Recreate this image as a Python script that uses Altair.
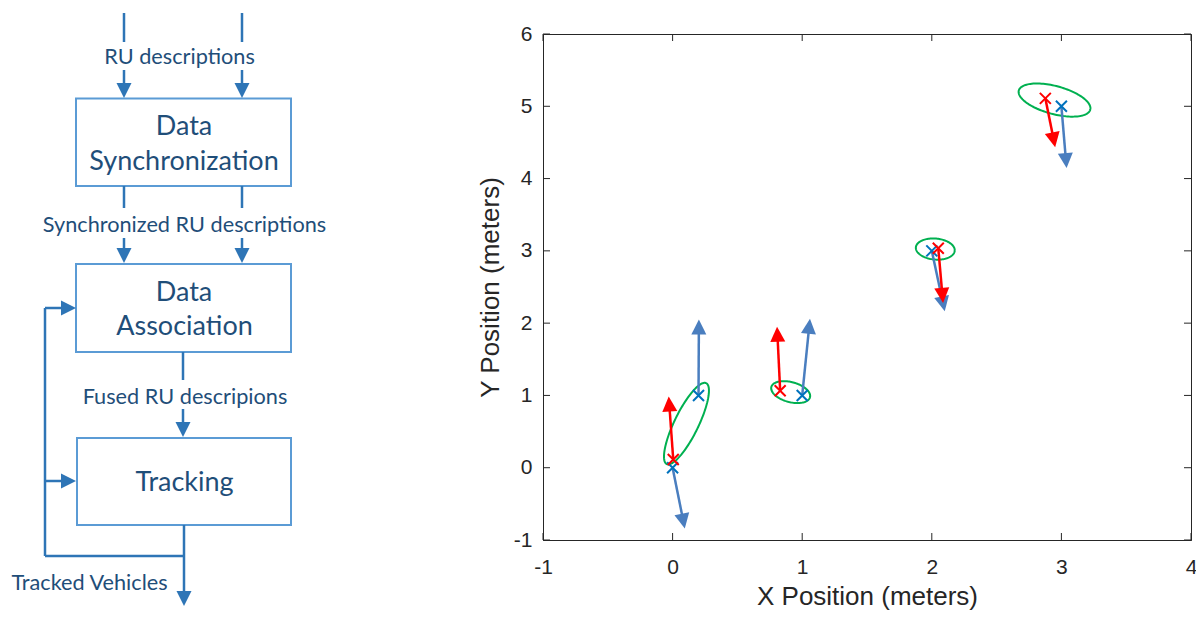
import math
import altair as alt
import pandas as pd

# ---------------- scatter data (meters) ----------------
red_x = [0.005, 0.83, 2.05, 2.876]
red_y = [0.114, 1.064, 3.035, 5.11]
red_tip_x = [-0.03, 0.806, 2.087, 2.952]
red_tip_y = [0.985, 1.95, 2.28, 4.435]

blue_x = [0.0, 0.2, 1.0, 2.0, 3.0]
blue_y = [0.0, 1.0, 1.0, 3.0, 5.0]
blue_tip_x = [0.094, 0.203, 1.06, 2.10, 3.04]
blue_tip_y = [-0.84, 2.05, 2.06, 2.165, 4.146]

ell_cx = [0.107, 0.911, 2.027, 2.947]
ell_cy = [0.61, 1.046, 3.025, 5.086]
ell_a_px = [45, 20, 19.5, 37]      # semi-major (screen px)
ell_b_px = [12, 10, 10.5, 14]      # semi-minor (screen px)
ell_ang = [64, -15, -5, -15]       # degrees, counter-clockwise on screen

x_ticks = [-1, 0, 1, 2, 3, 4]
y_ticks = [-1, 0, 1, 2, 3, 4, 5, 6]

# ---------------- block diagram (page pixel coordinates) ----------------
box_x1 = [76, 76, 77]
box_x2 = [291, 291, 291]
box_y1 = [98.5, 264, 438]
box_y2 = [186, 352, 525]

line_x1 = [124, 124, 242, 242, 124, 124, 242, 242, 183, 183, 184, 45, 45, 45, 45]
line_x2 = [124, 124, 242, 242, 124, 124, 242, 242, 183, 183, 184, 184, 45, 68, 68]
line_y1 = [13, 70, 13, 70, 186, 238, 186, 238, 352, 409, 525, 556, 308, 308, 481]
line_y2 = [42, 90, 42, 90, 208, 255, 208, 255, 380, 429, 598, 556, 556, 308, 481]

head_x = [124, 242, 124, 242, 183, 184, 76, 76]
head_y = [98, 98, 263, 263, 437, 606, 308, 481]
head_ang = [180, 180, 180, 180, 180, 180, 90, 90]

lab_text = ["RU descriptions", "Data", "Synchronization", "Synchronized RU descriptions",
            "Data", "Association", "Fused RU descripions", "Tracking", "Tracked Vehicles"]
lab_x = [179.5, 184, 184, 184.5, 184, 184.5, 185, 184.5, 89.5]
lab_y = [57, 127, 162, 225, 293, 327, 397, 483, 583]
lab_size = [21.7, 27, 27, 21.7, 27, 27, 21.7, 27, 21.7]

# ---------------- layout ----------------
PL, PT, PR, PB = 535, 26, 5, 70
W, H = 648, 506
X_DOM = [-1, 4]
Y_DOM = [-1, 6]
SX = W / (X_DOM[1] - X_DOM[0])
SY = H / (Y_DOM[1] - Y_DOM[0])

AXC = "#262626"
FONT = "Liberation Sans"
LABEL = "'' + datum.value"

xscale = alt.Scale(domain=X_DOM, nice=False, zero=False)
yscale = alt.Scale(domain=Y_DOM, nice=False, zero=False)
xaxis = alt.Axis(values=x_ticks, ticks=False, tickSize=0, grid=False, labelFlush=False,
                 labelFont=FONT, labelFontSize=21, labelColor=AXC, labelPadding=16,
                 labelExpr=LABEL,
                 title="X Position (meters)", titleFont=FONT, titleFontSize=26,
                 titleFontWeight="normal", titleColor=AXC, titlePadding=6,
                 domainColor=AXC)
yaxis = alt.Axis(values=y_ticks, ticks=False, tickSize=0, grid=False, labelFlush=False,
                 labelFont=FONT, labelFontSize=21, labelColor=AXC, labelPadding=11,
                 labelExpr=LABEL,
                 title="Y Position (meters)", titleFont=FONT, titleFontSize=26,
                 titleFontWeight="normal", titleColor=AXC, titlePadding=10,
                 domainColor=AXC)


def X(f):
    return alt.X(f, type="quantitative", scale=xscale, axis=xaxis)


def Y(f):
    return alt.Y(f, type="quantitative", scale=yscale, axis=yaxis)


def arrows(xs, ys, txs, tys, back):
    rows = []
    for x, y, tx, ty in zip(xs, ys, txs, tys):
        dxp = (tx - x) * SX
        dyp = (ty - y) * SY
        L = math.hypot(dxp, dyp)
        f = (L - back) / L
        rows.append(dict(x=x, y=y, ex=x + (tx - x) * f, ey=y + (ty - y) * f,
                         tx=tx, ty=ty, angle=math.degrees(math.atan2(dxp, dyp)) % 360))
    return pd.DataFrame(rows)


red_df = arrows(red_x, red_y, red_tip_x, red_tip_y, 8)
blue_df = arrows(blue_x, blue_y, blue_tip_x, blue_tip_y, 8)

ell_rows = []
for i, (cx, cy, a, b, ang) in enumerate(zip(ell_cx, ell_cy, ell_a_px, ell_b_px, ell_ang)):
    th = math.radians(ang)
    for k in range(121):
        t = 2 * math.pi * k / 120
        dx = a * math.cos(t) * math.cos(th) - b * math.sin(t) * math.sin(th)
        dy = a * math.cos(t) * math.sin(th) + b * math.sin(t) * math.cos(th)
        ell_rows.append(dict(id=i, k=k, x=cx + dx / SX, y=cy + dy / SY))
ell_df = pd.DataFrame(ell_rows)

XMARK = "M-1,-1L1,1M1,-1L-1,1"
HEAD = "M0,0L1,2L-1,2Z"

RED = "#FF0000"
BLUE_ARROW = "#4A7EBF"
BLUE_X = "#0072BD"
GREEN = "#00B050"

ellipses = alt.Chart(ell_df).mark_line(color=GREEN, strokeWidth=2).encode(
    x=X("x"), y=Y("y"), detail="id:N", order="k:Q")


def arrow_layers(df, color):
    shaft = alt.Chart(df).mark_rule(color=color, strokeWidth=2.5).encode(
        x=X("x"), y=Y("y"), x2="ex", y2="ey")
    head = alt.Chart(df).mark_point(shape=HEAD, filled=True, color=color, size=225,
                                    opacity=1, strokeWidth=0).encode(
        x=X("tx"), y=Y("ty"), angle=alt.Angle("angle:Q", scale=None))
    return [shaft, head]


def marks(df, color):
    return alt.Chart(df).mark_point(shape=XMARK, filled=False, color=color, size=121,
                                    opacity=1, strokeWidth=2).encode(x=X("x"), y=Y("y"))


xt = pd.DataFrame({"v": x_ticks})
yt = pd.DataFrame({"v": y_ticks})
TL = 7
ticks = [
    alt.Chart(xt).mark_rule(color=AXC, strokeWidth=1).encode(x=X("v"), y=alt.value(H), y2=alt.value(H - TL)),
    alt.Chart(xt).mark_rule(color=AXC, strokeWidth=1).encode(x=X("v"), y=alt.value(0), y2=alt.value(TL)),
    alt.Chart(yt).mark_rule(color=AXC, strokeWidth=1).encode(y=Y("v"), x=alt.value(0), x2=alt.value(TL)),
    alt.Chart(yt).mark_rule(color=AXC, strokeWidth=1).encode(y=Y("v"), x=alt.value(W), x2=alt.value(W - TL)),
]

scatter = alt.layer(
    *ticks,
    ellipses,
    *arrow_layers(blue_df, BLUE_ARROW),
    *arrow_layers(red_df, RED),
    marks(blue_df, BLUE_X),
    marks(red_df, RED),
)

# ---------------- diagram layers (own scales, identity to page px) ----------------
dxs = alt.Scale(domain=[PL + 8, PL + 8 + W], nice=False, zero=False)
dys = alt.Scale(domain=[PT + 8, PT + 8 + H], nice=False, zero=False, reverse=True)


def DX(f):
    return alt.X(f, type="quantitative", scale=dxs, axis=None)


def DY(f):
    return alt.Y(f, type="quantitative", scale=dys, axis=None)


box_df = pd.DataFrame({"x1": box_x1, "x2": box_x2, "y1": box_y1, "y2": box_y2})
line_df = pd.DataFrame({"x1": line_x1, "x2": line_x2, "y1": line_y1, "y2": line_y2})
head_df = pd.DataFrame({"x": head_x, "y": head_y, "angle": head_ang})
lab_df = pd.DataFrame({"x": lab_x, "y": lab_y, "text": lab_text, "size": lab_size})

ARROWC = "#2E75B6"
boxes = alt.Chart(box_df).mark_rect(fill="white", stroke="#5B9BD5", strokeWidth=2).encode(
    x=DX("x1"), x2="x2", y=DY("y1"), y2="y2")
dlines = alt.Chart(line_df).mark_rule(color=ARROWC, strokeWidth=2.5).encode(
    x=DX("x1"), x2="x2", y=DY("y1"), y2="y2")
dheads = alt.Chart(head_df).mark_point(shape="M0,0L1,2L-1,2Z", filled=True, color=ARROWC,
                                      size=225, opacity=1, strokeWidth=0).encode(
    x=DX("x"), y=DY("y"), angle=alt.Angle("angle:Q", scale=None))
dtext = alt.Chart(lab_df).mark_text(font="Lato", color="#1F4E79", baseline="middle",
                                    align="center").encode(
    x=DX("x"), y=DY("y"), text="text:N", size=alt.Size("size:Q", scale=None))

diagram = alt.layer(boxes, dlines, dheads, dtext)

chart = alt.layer(scatter, diagram).resolve_scale(x="independent", y="independent").properties(
    width=W, height=H,
    autosize=alt.AutoSizeParams(type="none"),
    padding={"left": PL, "top": PT, "right": PR, "bottom": PB},
    background="white",
).configure_view(stroke=AXC, strokeWidth=1)

chart.save("out.html", embed_options={"renderer": "svg", "actions": False})
